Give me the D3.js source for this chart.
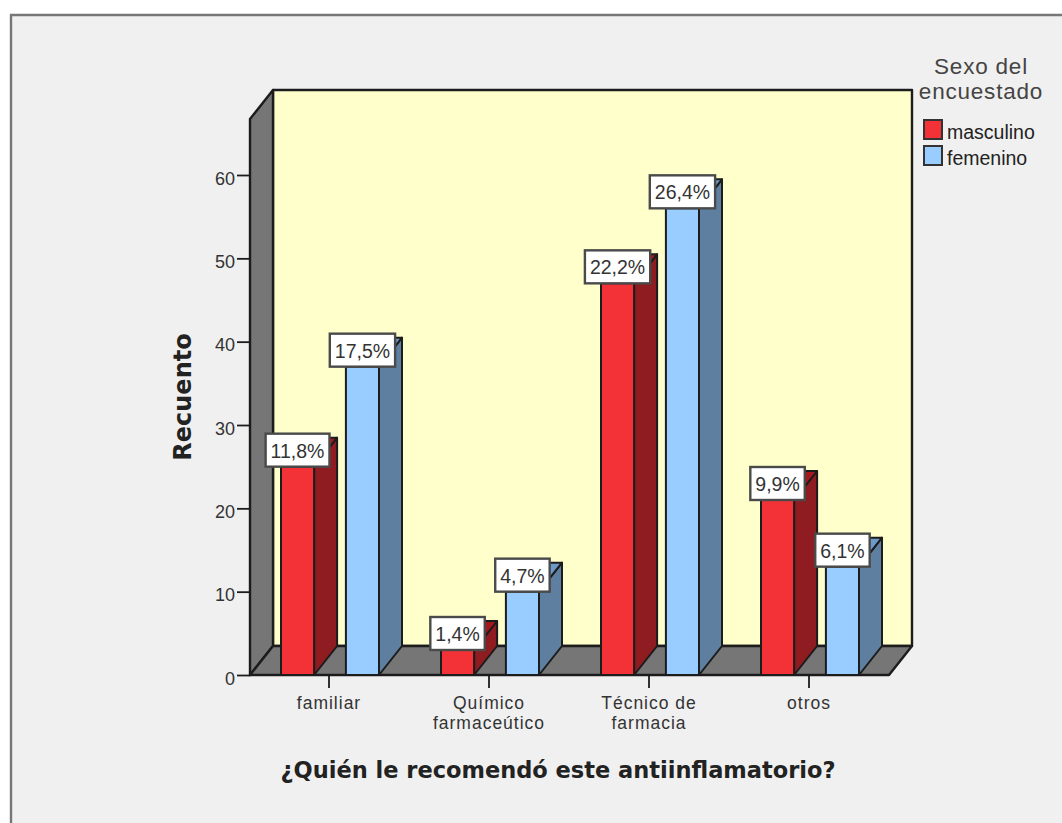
<!DOCTYPE html>
<html>
<head>
<meta charset="utf-8">
<script src="https://cdnjs.cloudflare.com/ajax/libs/d3/7.8.5/d3.min.js"></script>
<style>
html,body{margin:0;padding:0;background:#fff;}
svg{display:block;}
</style>
</head>
<body>
<svg id="chart" width="1062" height="823"></svg>
<script>
// Counts per recommender and sex, with the share of all respondents shown on each bar.
const categories = [["familiar"], ["Químico", "farmaceútico"], ["Técnico de", "farmacia"], ["otros"]];
const seriesNames = ["masculino", "femenino"];
const masculino = [25, 3, 47, 21];
const femenino = [37, 10, 56, 13];
const masculinoLabels = ["11,8%", "1,4%", "22,2%", "9,9%"];
const femeninoLabels = ["17,5%", "4,7%", "26,4%", "6,1%"];
const yTicks = [0, 10, 20, 30, 40, 50, 60];

const FRONT = {red: "#f23237", blue: "#99ccff"};
const SIDE = {red: "#8e1c20", blue: "#5f7fa1"};
const TOP = {red: "#a5191e", blue: "#6b9ac9"};
const INK = "#1c1c1c";
const TEXT = "#333";
const WALL = "#767676";
const SANS = "'Liberation Sans', Arial, sans-serif";
const HEAVY = "'DejaVu Sans', Verdana, sans-serif";

const svg = d3.select("#chart");

// Outer panel: open on the right and at the bottom edge.
svg.append("rect").attr("x", 11).attr("y", 15).attr("width", 1051).attr("height", 808).attr("fill", "#f0f0f0");
svg.append("path").attr("d", "M11,823V15H1062").attr("fill", "none").attr("stroke", "#777").attr("stroke-width", 2.4);

// Oblique projection offset between the front plane and the back wall.
const depth = {x: 23, y: -29};
const y = d3.scaleLinear().domain([0, 60]).range([675, 175]);
const yTop = 119;
const x = d3.scaleBand().domain(d3.range(categories.length)).range([250, 890]);
const xInner = d3.scaleBand().domain(seriesNames).range([31, 129]).paddingInner(0.49).paddingOuter(0);

const poly = (pts) => "M" + pts.map(p => p.join(",")).join("L") + "Z";
const lineStyle = (sel, w = 2) => sel.attr("stroke", INK).attr("stroke-width", w).attr("stroke-linejoin", "round");

// Back wall, left wall and floor of the 3-D frame.
const x0 = x.range()[0], x1 = x.range()[1], yBase = y(0);
svg.append("path")
  .attr("d", poly([[x0 + depth.x, yTop + depth.y], [x1 + depth.x - 1, yTop + depth.y], [x1 + depth.x - 1, yBase + depth.y], [x0 + depth.x, yBase + depth.y]]))
  .attr("fill", "#ffffcc").call(lineStyle, 2.4);
svg.append("path")
  .attr("d", poly([[x0, yTop], [x0 + depth.x, yTop + depth.y], [x0 + depth.x, yBase + depth.y], [x0, yBase]]))
  .attr("fill", WALL).call(lineStyle, 2.4);
svg.append("path")
  .attr("d", poly([[x0, yBase], [x0 + depth.x, yBase + depth.y], [x1 + depth.x - 1, yBase + depth.y], [x1 - 1, yBase]]))
  .attr("fill", WALL).call(lineStyle, 2.4);

// Value axis.
const yAxis = d3.axisLeft(y).tickValues(yTicks).tickSize(13).tickPadding(2).tickFormat(d3.format("d"));
const yG = svg.append("g").attr("transform", `translate(${x0},0)`).call(yAxis);
yG.select(".domain").remove();
yG.selectAll(".tick line").attr("stroke", INK).attr("stroke-width", 1.8);
yG.selectAll(".tick text").attr("fill", TEXT).attr("font-family", SANS).attr("font-size", 18).attr("dy", "0.5em");

// Category axis with two-line labels.
const xAxis = d3.axisBottom(x).tickSize(13).tickFormat("");
const xG = svg.append("g").attr("transform", `translate(0,${yBase})`).call(xAxis);
xG.select(".domain").remove();
xG.selectAll(".tick line").attr("stroke", INK).attr("stroke-width", 1.8).attr("x1", -1).attr("x2", -1);
xG.selectAll(".tick").each(function (d) {
  const t = d3.select(this).select("text")
    .attr("fill", TEXT)
    .attr("font-family", SANS)
    .attr("font-size", 17.5)
    .attr("letter-spacing", 1)
    .attr("y", 0);
  categories[d].forEach((line, i) => {
    t.append("tspan").attr("x", -1).attr("y", 34 + i * 20.4).attr("dy", 0).text(line);
  });
});

// Bars, drawn category by category so neighbouring labels and sides overlap correctly.
const rows = [];
seriesNames.forEach((name, s) => {
  const values = s === 0 ? masculino : femenino;
  const labels = s === 0 ? masculinoLabels : femeninoLabels;
  values.forEach((v, c) => rows.push({c, name, v, label: labels[c], hue: s === 0 ? "red" : "blue"}));
});
rows.sort((a, b) => a.c - b.c);

const bars = svg.append("g");
rows.forEach(r => {
  const l = x(r.c) + xInner(r.name), w = xInner.bandwidth(), t = y(r.v), b = yBase;
  const g = bars.append("g");
  g.append("path").attr("d", poly([[l + w, t], [l + w + depth.x, t + depth.y], [l + w + depth.x, b + depth.y], [l + w, b]]))
    .attr("fill", SIDE[r.hue]).call(lineStyle);
  g.append("path").attr("d", poly([[l, t], [l + depth.x, t + depth.y], [l + w + depth.x, t + depth.y], [l + w, t]]))
    .attr("fill", TOP[r.hue]).call(lineStyle);
  g.append("rect").attr("x", l).attr("y", t).attr("width", w).attr("height", b - t)
    .attr("fill", FRONT[r.hue]).call(lineStyle);
});

// Percentage tags sit directly on the front top edge of each bar.
const tags = svg.append("g");
rows.forEach(r => {
  const cx = x(r.c) + xInner(r.name) + xInner.bandwidth() / 2, t = y(r.v);
  const g = tags.append("g");
  const txt = g.append("text").attr("x", cx).attr("y", t - 9)
    .attr("text-anchor", "middle").attr("fill", TEXT)
    .attr("font-family", SANS).attr("font-size", 19.5).text(r.label);
  const w = txt.node().getComputedTextLength() + 10;
  g.insert("rect", "text").attr("x", cx - w / 2).attr("y", t - 33).attr("width", w).attr("height", 33)
    .attr("fill", "#fff").attr("stroke", "#4a4a4a").attr("stroke-width", 2.4);
});

// Axis titles.
svg.append("text").attr("x", 558).attr("y", 778).attr("text-anchor", "middle")
  .attr("font-family", HEAVY).attr("font-weight", "bold").attr("font-size", 22.5)
  .attr("fill", "#222").text("¿Quién le recomendó este antiinflamatorio?");
svg.append("text").attr("transform", "translate(191,397) rotate(-90)").attr("text-anchor", "middle")
  .attr("font-family", HEAVY).attr("font-weight", "bold").attr("font-size", 24)
  .attr("fill", "#222").text("Recuento");

// Legend.
const legend = svg.append("g");
["Sexo del", "encuestado"].forEach((line, i) => {
  legend.append("text").attr("x", 981).attr("y", 74 + i * 25).attr("text-anchor", "middle")
    .attr("font-family", SANS).attr("font-size", 22.5).attr("letter-spacing", 0.8)
    .attr("fill", "#444").text(line);
});
seriesNames.forEach((name, i) => {
  const hue = i === 0 ? "red" : "blue";
  legend.append("rect").attr("x", 924).attr("y", 120 + i * 26).attr("width", 18).attr("height", 19)
    .attr("fill", FRONT[hue]).attr("stroke", "#333").attr("stroke-width", 2);
  legend.append("text").attr("x", 947).attr("y", 139 + i * 25.5)
    .attr("font-family", SANS).attr("font-size", 19.5)
    .attr("fill", "#222").text(name);
});
</script>
</body>
</html>
